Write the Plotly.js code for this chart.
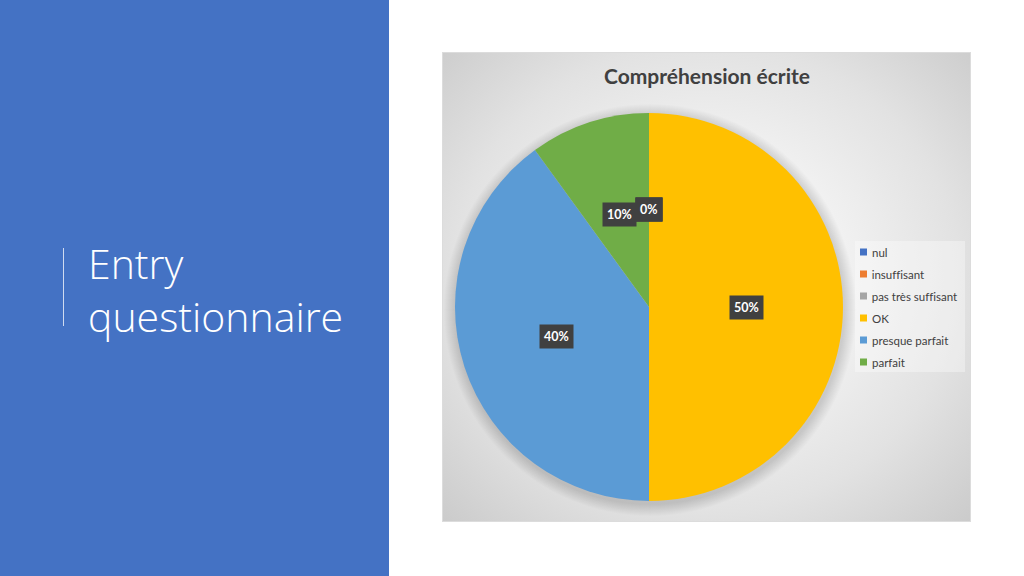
<!DOCTYPE html>
<html>
<head>
<meta charset="utf-8">
<script src="https://cdn.plot.ly/plotly-3.0.1.min.js"></script>
<style>
  html, body { margin:0; padding:0; background:#ffffff; }
  #wrap { position:relative; width:1024px; height:576px; overflow:hidden; }
  #bgbox { position:absolute; left:443px; top:53px; width:527px; height:468px;
           background: radial-gradient(ellipse farthest-corner at 50% 48%, #fbfbfb 0%, #f1f1f1 38%, #e2e2e2 68%, #cbcbcb 100%);
           box-shadow: 0 0 0 1px #dcdcdc; }
  #chart { position:absolute; left:0; top:0; width:1024px; height:576px; }
  #chart text { font-variant-ligatures: none; font-feature-settings: "liga" 0; }
</style>
</head>
<body>
<div id="wrap">
  <div id="bgbox"></div>
  <div id="chart"></div>
</div>
<script>
// ---- data ----
const chartTitle = 'Compréhension écrite';
const slideTitle = ['Entry', 'questionnaire'];
const categories = ['nul', 'insuffisant', 'pas très suffisant', 'OK', 'presque parfait', 'parfait'];
const values = [0, 0, 0, 50, 40, 10];
const colors = ['#4472C4', '#ED7D31', '#A5A5A5', '#FFC000', '#5B9BD5', '#70AD47'];

// ---- layout constants (pixels) ----
const W = 1024, H = 576;
const cx = 649, cy = 307, R = 194;
const px = x => x / W;
const py = y => 1 - y / H;

const total = values.reduce((a, b) => a + b, 0);

// pie trace
const pie = {
  type: 'pie',
  labels: categories,
  values: values,
  sort: false,
  direction: 'clockwise',
  rotation: 0,
  marker: { colors: colors, line: { width: 0 } },
  textinfo: 'none',
  hoverinfo: 'label+percent',
  showlegend: false,
  domain: { x: [px(cx - R), px(cx + R)], y: [py(cy + R), py(cy - R)] }
};

// data labels computed from values
const labelAnns = [];
let cum = 0;
const order = [];
values.forEach((v, i) => {
  const mid = (cum + v / 2) / total * 2 * Math.PI;
  cum += v;
  order.push({ i, mid, v });
});
// draw zero slices last so they sit on top (as in reference)
order.sort((a, b) => (a.v === 0) - (b.v === 0));
order.forEach(o => {
  const x = cx + 0.5 * R * Math.sin(o.mid);
  const y = cy - 0.5 * R * Math.cos(o.mid);
  labelAnns.push({
    xref: 'paper', yref: 'paper', x: px(x), y: py(y),
    xanchor: 'center', yanchor: 'middle', showarrow: false,
    text: Math.round(o.v / total * 100) + '%',
    font: { family: 'Lato, sans-serif', size: 12.5, color: '#ffffff', weight: 'bold' },
    bgcolor: '#404040', borderpad: 4
  });
});

// custom legend
const legX = 860, legY0 = 252, legStep = 22, sq = 7;
const shapes = [];
// left blue panel
shapes.push({ type: 'rect', xref: 'paper', yref: 'paper', x0: 0, x1: px(389), y0: 0, y1: 1,
  fillcolor: '#4472C4', line: { width: 0 }, layer: 'below' });
// vertical accent line
shapes.push({ type: 'line', xref: 'paper', yref: 'paper', x0: px(63.5), x1: px(63.5), y0: py(248), y1: py(326),
  line: { color: 'rgba(255,255,255,0.75)', width: 1 } });
// pie soft shadow
for (let k = 12; k >= 1; k--) {
  shapes.push({ type: 'circle', xref: 'paper', yref: 'paper',
    x0: px(cx + 1 - R - k), x1: px(cx + 1 + R + k), y0: py(cy + 3 + R + k), y1: py(cy + 3 - R - k),
    fillcolor: 'rgba(0,0,0,0.012)', line: { width: 0 }, layer: 'below' });
}
// legend background
shapes.push({ type: 'rect', xref: 'paper', yref: 'paper', x0: px(855), x1: px(965), y0: py(372), y1: py(241),
  fillcolor: 'rgba(255,255,255,0.35)', line: { width: 0 }, layer: 'below' });

const legAnns = [];
categories.forEach((c, i) => {
  const yc = legY0 + i * legStep;
  shapes.push({ type: 'rect', xref: 'paper', yref: 'paper',
    x0: px(legX), x1: px(legX + sq), y0: py(yc + sq / 2), y1: py(yc - sq / 2),
    fillcolor: colors[i], line: { width: 0 } });
  legAnns.push({ xref: 'paper', yref: 'paper', x: px(legX + sq + 3), y: py(yc),
    xanchor: 'left', yanchor: 'middle', showarrow: false, text: c,
    font: { family: 'Lato, sans-serif', size: 11.5, color: '#404040' } });
});

// slide title
const titleFont = { family: '"Open Sans", sans-serif', size: 41, color: '#ffffff', weight: 300 };
const titleAnns = [
  { xref: 'paper', yref: 'paper', x: px(86), y: py(263), xanchor: 'left', yanchor: 'middle', showarrow: false,
    text: slideTitle[0], font: titleFont },
  { xref: 'paper', yref: 'paper', x: px(86), y: py(316), xanchor: 'left', yanchor: 'middle', showarrow: false,
    text: slideTitle[1], font: titleFont }
];

const layout = {
  width: W, height: H,
  margin: { l: 0, r: 0, t: 0, b: 0 },
  paper_bgcolor: 'rgba(0,0,0,0)',
  plot_bgcolor: 'rgba(0,0,0,0)',
  showlegend: false,
  title: { text: chartTitle, xref: 'paper', yref: 'paper', x: px(707), y: py(77),
    xanchor: 'center', yanchor: 'middle',
    font: { family: 'Lato, sans-serif', size: 21, color: '#404040', weight: 'bold' } },
  shapes: shapes,
  annotations: titleAnns.concat(legAnns, labelAnns)
};

Plotly.newPlot('chart', [pie], layout, { displayModeBar: false, staticPlot: true });
</script>
</body>
</html>
